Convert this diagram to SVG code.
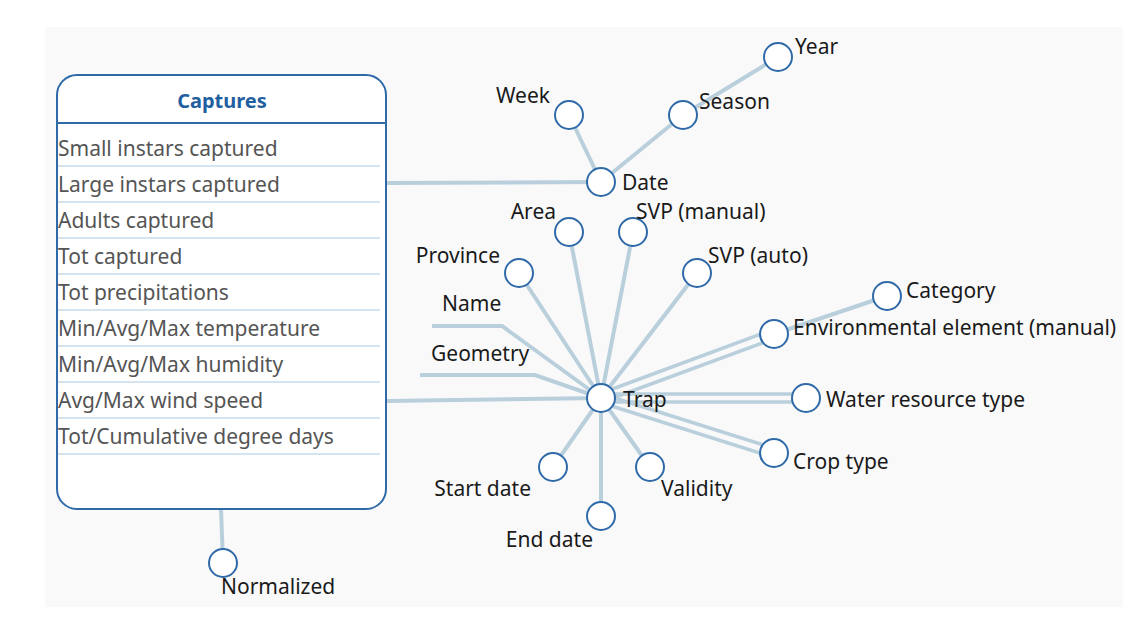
<svg xmlns="http://www.w3.org/2000/svg" width="1140" height="627" viewBox="0 0 1140 627">
<style>
.bg{fill:#f9f9fa}
.box{fill:#fff;stroke:#2f6aa8;stroke-width:2}
.hdr{stroke:#2f6aa8;stroke-width:2}
.sep{stroke:#d6e4ef;stroke-width:2}
.title{font-family:"Noto Sans","Open Sans",sans-serif;font-size:20px;font-weight:bold;fill:#1f5fa0}
.row{font-family:"Noto Sans","Open Sans",sans-serif;font-size:21px;fill:#555}
.lbl{font-family:"Noto Sans","Open Sans",sans-serif;font-size:21px;fill:#1a1a1a}
.c{fill:#fff;stroke:#2f6aa8;stroke-width:2}
.ln{stroke:#b9cfdc;stroke-width:4;fill:none}
.dl{stroke:#b9cfdc;stroke-width:3.5;fill:none}
</style>
<rect class="bg" x="45" y="27" width="1078" height="580"/>
<g id="connectors">
<line class="ln" x1="386" y1="183" x2="601" y2="182"/>
<line class="ln" x1="386" y1="401" x2="601" y2="398"/>
<line class="ln" x1="221" y1="509" x2="223" y2="563"/>
<line class="ln" x1="601" y1="182" x2="569" y2="115"/>
<line class="ln" x1="601" y1="182" x2="683" y2="115"/>
<line class="ln" x1="683" y1="115" x2="778" y2="57"/>
<line class="ln" x1="601" y1="398" x2="569" y2="232"/>
<line class="ln" x1="601" y1="398" x2="633" y2="232"/>
<line class="ln" x1="601" y1="398" x2="519" y2="273"/>
<line class="ln" x1="601" y1="398" x2="697" y2="273"/>
<polyline class="ln" points="601,398 502,326 432,326"/>
<polyline class="ln" points="601,398 535,375 420,375"/>
<line class="ln" x1="774" y1="334" x2="887" y2="296"/>
<line class="ln" x1="601" y1="398" x2="553" y2="467"/>
<line class="ln" x1="601" y1="398" x2="650" y2="467"/>
<line class="ln" x1="601" y1="398" x2="601" y2="516"/>
<line class="dl" x1="599" y1="394" x2="772" y2="330"/>
<line class="dl" x1="602" y1="402" x2="776" y2="338"/>
<line class="dl" x1="601" y1="394" x2="806" y2="394"/>
<line class="dl" x1="601" y1="402" x2="806" y2="402"/>
<line class="dl" x1="602" y1="394" x2="776" y2="449"/>
<line class="dl" x1="599" y1="402" x2="772" y2="457"/>
</g>
<g id="captures">
<rect class="box" x="57" y="75" width="329" height="434" rx="20"/>
<line class="hdr" x1="57" y1="123" x2="386" y2="123"/>
<text class="title" x="222" y="108" text-anchor="middle">Captures</text>
<g class="sep">
<line x1="58" y1="166" x2="380" y2="166"/>
<line x1="58" y1="202" x2="380" y2="202"/>
<line x1="58" y1="238" x2="380" y2="238"/>
<line x1="58" y1="274" x2="380" y2="274"/>
<line x1="58" y1="310" x2="380" y2="310"/>
<line x1="58" y1="346" x2="380" y2="346"/>
<line x1="58" y1="382" x2="380" y2="382"/>
<line x1="58" y1="418" x2="380" y2="418"/>
<line x1="58" y1="454" x2="380" y2="454"/>
</g>
<text class="row" x="58" y="156">Small instars captured</text>
<text class="row" x="58" y="192">Large instars captured</text>
<text class="row" x="58" y="228">Adults captured</text>
<text class="row" x="58" y="264">Tot captured</text>
<text class="row" x="58" y="300">Tot precipitations</text>
<text class="row" x="58" y="336">Min/Avg/Max temperature</text>
<text class="row" x="58" y="372">Min/Avg/Max humidity</text>
<text class="row" x="58" y="408">Avg/Max wind speed</text>
<text class="row" x="58" y="444">Tot/Cumulative degree days</text>
</g>
<g id="year"><circle class="c" cx="778" cy="57" r="14"/><text class="lbl" x="795" y="54">Year</text></g>
<g id="season"><circle class="c" cx="683" cy="115" r="14"/><text class="lbl" x="699" y="109">Season</text></g>
<g id="week"><circle class="c" cx="569" cy="115" r="14"/><text class="lbl" x="550" y="103" text-anchor="end">Week</text></g>
<g id="date"><circle class="c" cx="601" cy="182" r="14"/><text class="lbl" x="622" y="190">Date</text></g>
<g id="area"><circle class="c" cx="569" cy="232" r="14"/><text class="lbl" x="556" y="219" text-anchor="end">Area</text></g>
<g id="svp-manual"><circle class="c" cx="633" cy="232" r="14"/><text class="lbl" x="636" y="219">SVP (manual)</text></g>
<g id="province"><circle class="c" cx="519" cy="273" r="14"/><text class="lbl" x="500" y="263" text-anchor="end">Province</text></g>
<g id="svp-auto"><circle class="c" cx="697" cy="273" r="14"/><text class="lbl" x="708" y="263">SVP (auto)</text></g>
<g id="name"><text class="lbl" x="442" y="311">Name</text></g>
<g id="geometry"><text class="lbl" x="431" y="361">Geometry</text></g>
<g id="category"><circle class="c" cx="887" cy="296" r="14"/><text class="lbl" x="906" y="298">Category</text></g>
<g id="env"><circle class="c" cx="774" cy="334" r="14"/><text class="lbl" x="793" y="335">Environmental element (manual)</text></g>
<g id="trap"><circle class="c" cx="601" cy="398" r="14"/><text class="lbl" x="623" y="407">Trap</text></g>
<g id="water"><circle class="c" cx="806" cy="398" r="14"/><text class="lbl" x="826" y="407">Water resource type</text></g>
<g id="crop"><circle class="c" cx="774" cy="453" r="14"/><text class="lbl" x="793" y="469">Crop type</text></g>
<g id="start"><circle class="c" cx="553" cy="467" r="14"/><text class="lbl" x="531" y="496" text-anchor="end">Start date</text></g>
<g id="validity"><circle class="c" cx="650" cy="467" r="14"/><text class="lbl" x="661" y="496">Validity</text></g>
<g id="end"><circle class="c" cx="601" cy="516" r="14"/><text class="lbl" x="593" y="547" text-anchor="end">End date</text></g>
<g id="normalized"><circle class="c" cx="223" cy="563" r="14"/><text class="lbl" x="221" y="594">Normalized</text></g>
</svg>
